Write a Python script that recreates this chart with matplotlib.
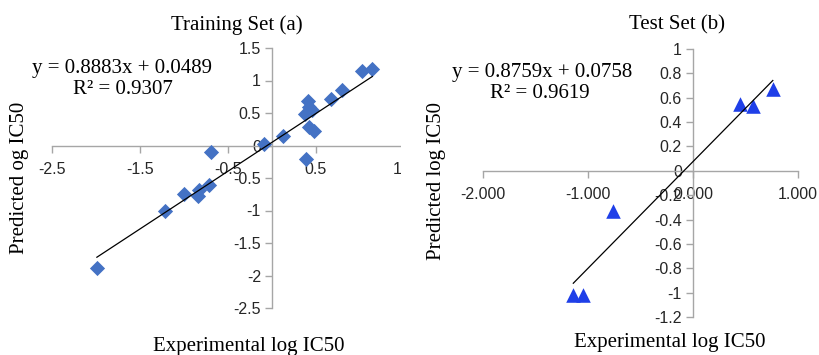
import matplotlib
matplotlib.use("Agg")
from matplotlib import pyplot as plt
from matplotlib.patches import Rectangle
import numpy as np

# training set (a)
train_exp = [1.14, 1.02, 0.80, 0.67, 0.41, 0.42, 0.46, 0.37, 0.42, 0.48,
             0.12, -0.09, 0.39, -0.69, -1.22, -1.00, -0.84, -0.83, -0.72, -1.99]
train_pred = [1.18, 1.15, 0.86, 0.71, 0.68, 0.60, 0.55, 0.48, 0.29, 0.23,
              0.14, 0.02, -0.20, -0.10, -1.00, -0.74, -0.78, -0.69, -0.60, -1.88]
train_slope, train_icpt, train_r2 = 0.8883, 0.0489, 0.9307

# test set (b)
test_exp = [0.45, 0.57, 0.76, -0.76, -1.14, -1.05]
test_pred = [0.55, 0.53, 0.67, -0.33, -1.02, -1.02]
test_slope, test_icpt, test_r2 = 0.8759, 0.0758, 0.9619

train_xticks = [-2.5, -1.5, -0.5, 0.5, 1.5]
train_yticks = [1.5, 1, 0.5, 0, -0.5, -1, -1.5, -2, -2.5]
test_xticks = [-2, -1, 0, 1]
test_yticks = [1, 0.8, 0.6, 0.4, 0.2, 0, -0.2, -0.4, -0.6, -0.8, -1, -1.2]

serif = "Liberation Serif"
sans = "Liberation Sans"
axcol = "#a6a6a6"

fig = plt.figure(figsize=(8.2, 3.55), dpi=100)

def style_axes(ax):
    ax.spines["left"].set_position(("data", 0))
    ax.spines["bottom"].set_position(("data", 0))
    ax.spines["top"].set_visible(False)
    ax.spines["right"].set_visible(False)
    for s in ("left", "bottom"):
        ax.spines[s].set_color(axcol)
        ax.spines[s].set_linewidth(1.0)
    ax.tick_params(direction="out", length=5, color=axcol, width=1.0,
                   labelsize=11.5, labelcolor="#262626")
    ax.tick_params(axis="x", pad=7)
    ax.tick_params(axis="y", pad=3)
    for lab in ax.get_xticklabels() + ax.get_yticklabels():
        lab.set_fontfamily(sans)
    ax.patch.set_alpha(0)

# ---- left panel
ax1 = fig.add_axes([52/820, 1 - 308/355, 352/820, 260/355])
ax1.set_xlim(-2.5, 1.5)
ax1.set_ylim(-2.5, 1.5)
ax1.set_xticks(train_xticks)
ax1.set_xticklabels([f"{v:g}" for v in train_xticks])
ax1.set_yticks(train_yticks)
ax1.set_yticklabels([f"{v:g}" for v in train_yticks])
style_axes(ax1)
ax1.scatter(train_exp, train_pred, marker="D", s=60, color="#4472c4", zorder=3, linewidths=0)
xs = np.array([min(train_exp), max(train_exp)])
ax1.plot(xs, train_slope * xs + train_icpt, color="black", lw=0.9, zorder=4)

# ---- right panel
ax2 = fig.add_axes([483/820, 1 - 317/355, 315/820, 268/355])
ax2.set_xlim(-2, 1)
ax2.set_ylim(-1.2, 1)
ax2.set_xticks(test_xticks)
ax2.set_xticklabels([f"{v:.3f}" for v in test_xticks])
ax2.set_yticks(test_yticks)
ax2.set_yticklabels([f"{v:g}" for v in test_yticks])
style_axes(ax2)
ax2.scatter(test_exp, test_pred, marker="^", s=110, color="#1f3fe8", zorder=3, linewidths=0)
xs = np.array([min(test_exp), max(test_exp)])
ax2.plot(xs, test_slope * xs + test_icpt, color="black", lw=0.9, zorder=4)

# cut off the "1.5" label like the cropped original
fig.add_artist(Rectangle((401.5/820, 0), 14/820, 0.6, transform=fig.transFigure,
                         facecolor="white", edgecolor="none", zorder=10))

# texts
fs = 15
fig.text(237/820, 1 - 25/355, "Training Set (a)", ha="center", va="center", fontsize=fs, family=serif)
fig.text(677/820, 1 - 25/355, "Test Set (b)", ha="center", va="center", fontsize=fs, family=serif)
fig.text(122/820, 1 - 68/355, f"y = {train_slope}x + {train_icpt}", ha="center", va="center", fontsize=fs, family=serif)
fig.text(123/820, 1 - 90/355, f"R² = {train_r2}", ha="center", va="center", fontsize=fs, family=serif)
fig.text(542/820, 1 - 72/355, f"y = {test_slope}x + {test_icpt}", ha="center", va="center", fontsize=fs, family=serif)
fig.text(540/820, 1 - 94/355, f"R² = {test_r2}", ha="center", va="center", fontsize=fs, family=serif)
fig.text(249/820, 1 - 347/355, "Experimental log IC50", ha="center", va="center", fontsize=fs, family=serif)
fig.text(670/820, 1 - 343/355, "Experimental log IC50", ha="center", va="center", fontsize=fs, family=serif)
fig.text(20/820, 1 - 178/355, "Predicted og IC50", ha="center", va="center", rotation=90, fontsize=fs, family=serif)
fig.text(437/820, 1 - 181/355, "Predicted log IC50", ha="center", va="center", rotation=90, fontsize=fs, family=serif)

fig.savefig("out.png", dpi=100)
